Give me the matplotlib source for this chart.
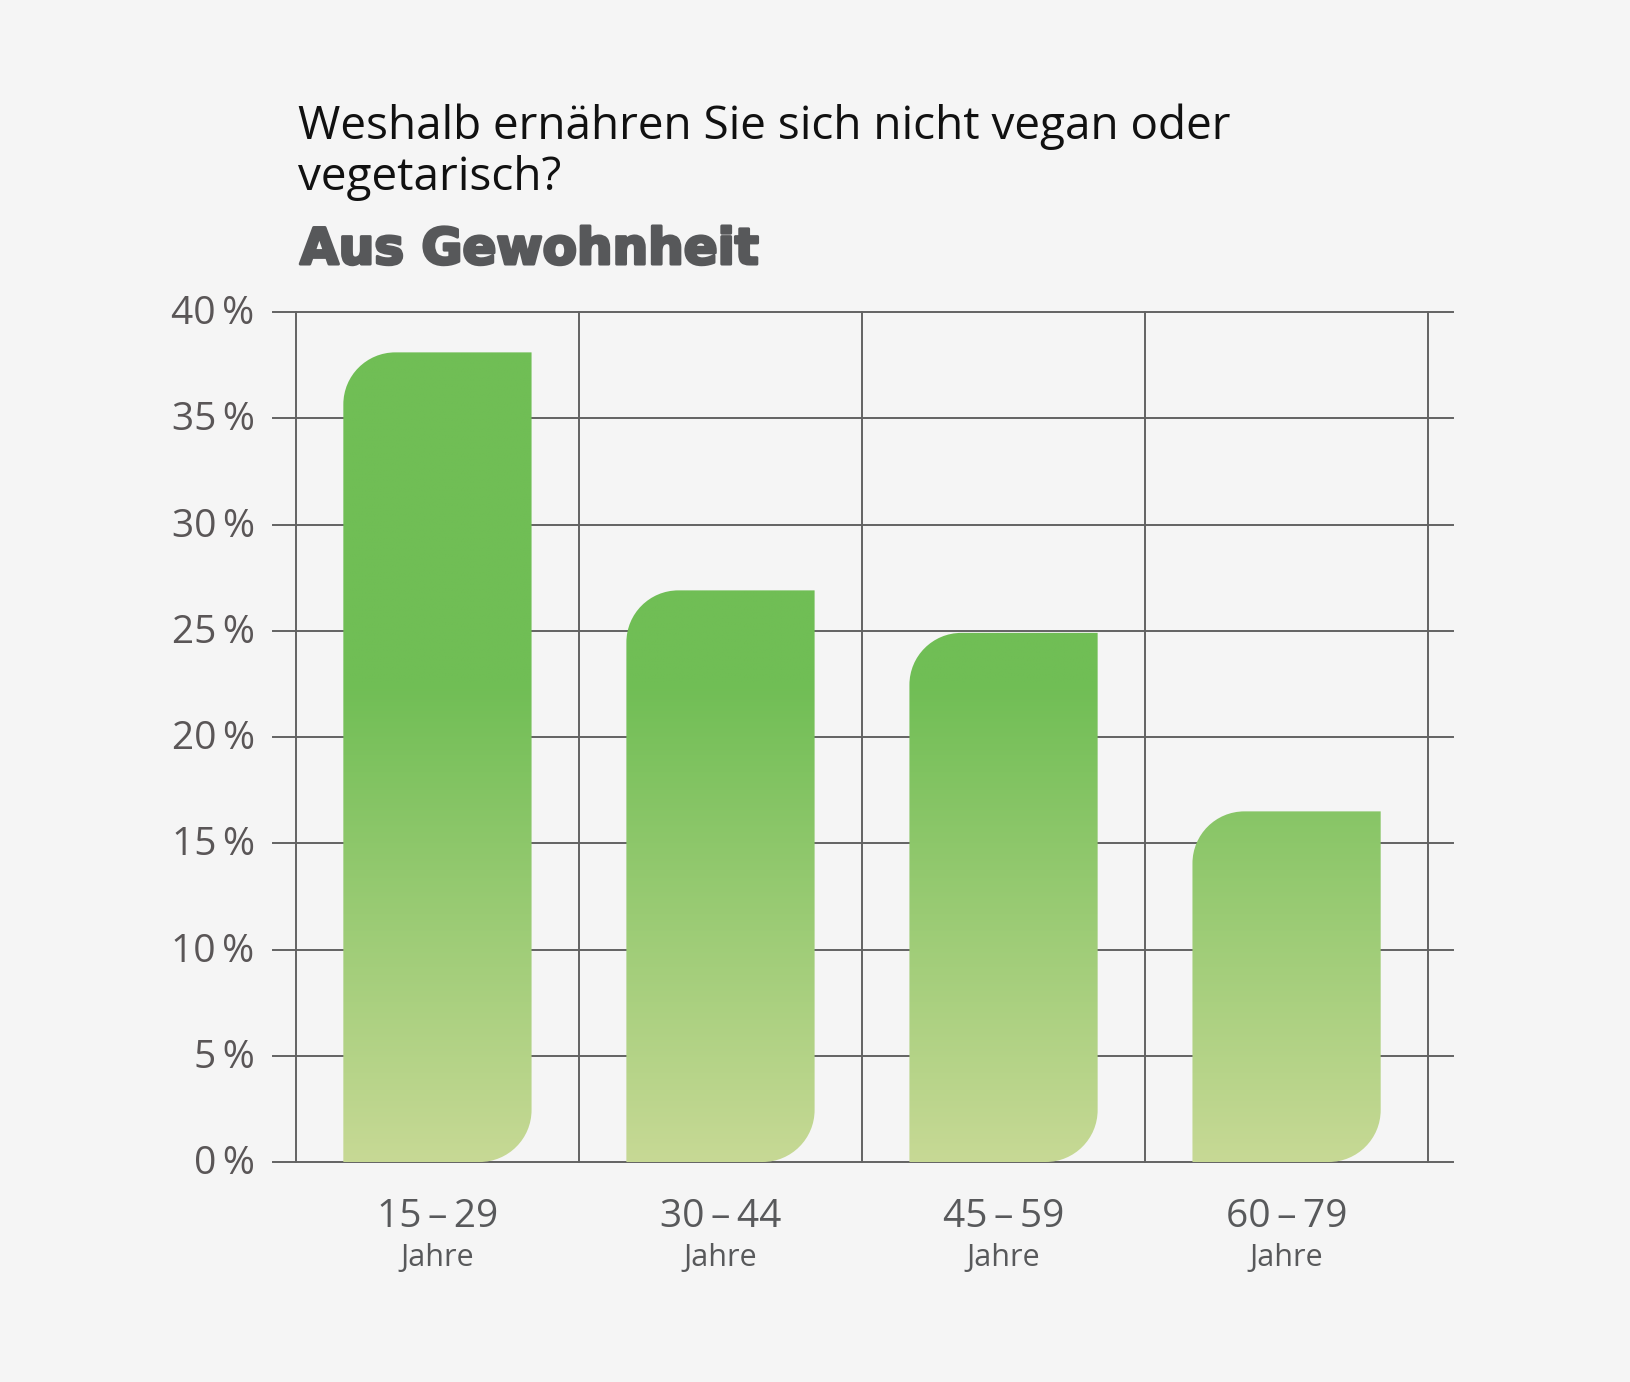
import numpy as np
import matplotlib.pyplot as plt
from matplotlib.path import Path
from matplotlib.patches import PathPatch
from matplotlib.colors import to_rgb
import matplotlib.patheffects as pe

# data
age_groups = ["15\u2009\u2013\u200929", "30\u2009\u2013\u200944", "45\u2009\u2013\u200959", "60\u2009\u2013\u200979"]
share = [38.1, 26.9, 24.9, 16.5]
y_ticks = [0, 5, 10, 15, 20, 25, 30, 35, 40]

bg = "#f5f5f5"
grid_col = "#626262"
label_col = "#58595b"
green_top = to_rgb("#70be55")
green_bot = to_rgb("#c7d995")

W, H = 1630, 1382
fig = plt.figure(figsize=(W / 100, H / 100), dpi=100, facecolor=bg)
fonts = ["Open Sans", "DejaVu Sans"]

# axes placed in pixel terms
px_left, px_right = 273, 1453
px_top, px_bot = 312, 1162
ax = fig.add_axes([px_left / W, 1 - px_bot / H, (px_right - px_left) / W, (px_bot - px_top) / H])
ax.set_facecolor(bg)
xmin, xmax = -0.581, 3.588
ax.set_xlim(xmin, xmax)
ax.set_ylim(0, 40)
ax.axis("off")

# grid
for t in y_ticks:
    ax.axhline(t, color=grid_col, lw=1.4, clip_on=False, zorder=1)
    ax.text(xmin - 0.065, t - 0.1, f"{t}\u2009%", ha="right", va="center", fontsize=28,
            color="#5a5657", family=fonts)
for i in range(len(age_groups) + 1):
    ax.plot([i - 0.5, i - 0.5], [0, 40], color=grid_col, lw=1.4, clip_on=False, zorder=1)

# radius of rounded corners, in pixels -> data units
ax_w_px = px_right - px_left
ax_h_px = px_bot - px_top
r_px = 52
rx = r_px * (xmax - xmin) / ax_w_px
ry = r_px * 40 / ax_h_px
k = 0.5523

# vertical gradient (in data y) shared by all bars
ny = 400
yy = np.linspace(0, 40, ny)
t = np.clip(yy / 22.5, 0, 1)
grad = np.zeros((ny, 2, 3))
for c in range(3):
    grad[:, :, c] = (green_bot[c] + (green_top[c] - green_bot[c]) * t)[:, None]

bar_w = 0.665
for i, v in enumerate(share):
    x0, x1 = i - bar_w / 2, i + bar_w / 2
    verts = [
        (x0, 0), (x1 - rx, 0),
        (x1 - rx + k * rx, 0), (x1, ry - k * ry), (x1, ry),
        (x1, v), (x0 + rx, v),
        (x0 + rx - k * rx, v), (x0, v - ry + k * ry), (x0, v - ry),
        (x0, 0), (x0, 0),
    ]
    codes = [Path.MOVETO, Path.LINETO,
             Path.CURVE4, Path.CURVE4, Path.CURVE4,
             Path.LINETO, Path.LINETO,
             Path.CURVE4, Path.CURVE4, Path.CURVE4,
             Path.LINETO, Path.CLOSEPOLY]
    patch = PathPatch(Path(verts, codes), facecolor="none", edgecolor="none", zorder=2)
    ax.add_patch(patch)
    im = ax.imshow(grad, extent=(x0, x1, 0, 40), origin="lower", aspect="auto",
                   interpolation="bilinear", zorder=2)
    im.set_clip_path(patch)

    ax.text(i, -2.6, age_groups[i], ha="center", va="center", fontsize=28,
            color=label_col, family=fonts)
    ax.text(i, -4.5, "Jahre", ha="center", va="center", fontsize=22,
            color=label_col, family=fonts)

ax.set_xlim(xmin, xmax)
ax.set_ylim(0, 40)

# titles
fig.text(298 / W, 1 - 152 / H, "Weshalb ernähren Sie sich nicht vegan oder\nvegetarisch?",
         ha="left", va="center", fontsize=33, color="#111111", family=fonts,
         linespacing=1.15)
fig.text(300 / W, 1 - 250 / H, "Aus Gewohnheit", ha="left", va="center", fontsize=36,
         fontweight="bold", color="#57585a", family=["DejaVu Sans"],
         path_effects=[pe.withStroke(linewidth=2.2, foreground="#57585a")])

fig.savefig("out.png", dpi=100, facecolor=bg)
